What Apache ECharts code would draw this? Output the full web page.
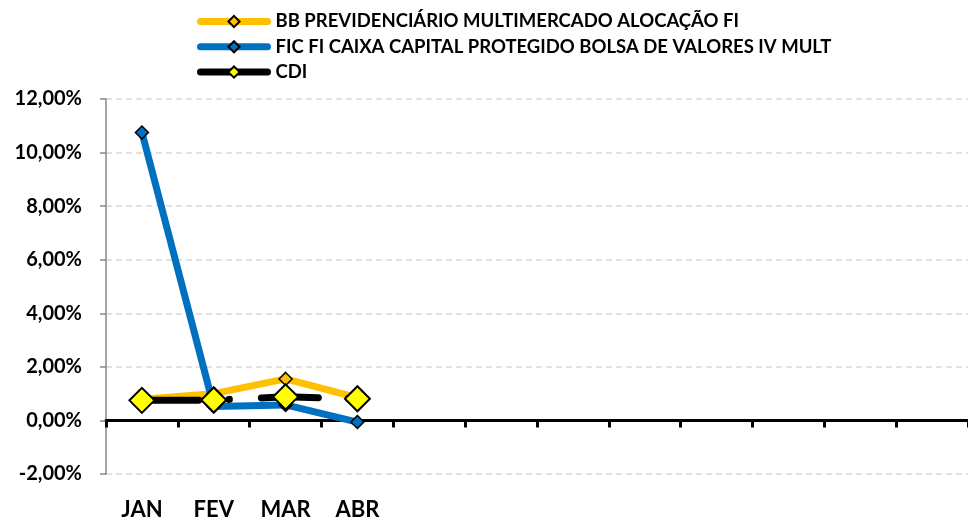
<!DOCTYPE html>
<html>
<head>
<meta charset="utf-8">
<script src="https://cdn.jsdelivr.net/npm/echarts@6/dist/echarts.min.js"></script>
<style>
  html, body { margin: 0; padding: 0; background: #fff; }
  #chart { width: 968px; height: 521px; }
</style>
</head>
<body>
<div id="chart"></div>
<script>
const months = ['JAN', 'FEV', 'MAR', 'ABR', '', '', '', '', '', '', '', '']

const seriesNames = [
  'BB PREVIDENCIÁRIO MULTIMERCADO ALOCAÇÃO FI',
  'FIC FI CAIXA CAPITAL PROTEGIDO BOLSA DE VALORES IV MULT',
  'CDI'
]

// monthly returns in %
const bbValues = [0.79, 1.0, 1.55, 0.85]
const caixaValues = [10.75, 0.52, 0.58, -0.06]
const cdiValues = [0.75, 0.76, 0.88, 0.81]

const font = 'Lato'

function pctLabel(v) {
  return v.toFixed(2).replace('.', ',') + '%'
}

const chart = echarts.init(document.getElementById('chart'))

const option = {
  animation: false,
  textStyle: { fontFamily: font },
  legend: {
    orient: 'vertical',
    left: 192,
    top: 7,
    itemWidth: 67,
    itemHeight: 14,
    itemGap: 6.3,
    data: seriesNames,
    textStyle: {
      fontFamily: font,
      fontWeight: 'bold',
      fontSize: 18.5,
      color: '#000',
      padding: [0, 0, 0, 3]
    },
    lineStyle: { width: 7, type: 'solid', cap: 'round' }
  },
  grid: {
    left: 106,
    top: 99,
    right: -2,
    bottom: 46
  },
  xAxis: [
    {
      type: 'category',
      data: months,
      boundaryGap: true,
      axisLine: { onZero: true, lineStyle: { color: '#000', width: 3 } },
      axisTick: { show: true, inside: false, length: 7, lineStyle: { color: '#000', width: 3 } },
      axisLabel: { show: false },
      splitLine: { show: false }
    },
    {
      type: 'category',
      data: months,
      position: 'bottom',
      boundaryGap: true,
      axisLine: { show: false, onZero: false },
      axisTick: { show: false },
      axisLabel: { show: true, interval: 0, margin: 25, fontFamily: font, fontWeight: 'bold', fontSize: 22, color: '#000' },
      splitLine: { show: false }
    }
  ],
  yAxis: {
    type: 'value',
    min: -2,
    max: 12,
    interval: 2,
    axisLine: { show: true, lineStyle: { color: '#868686', width: 1.5 } },
    axisTick: { show: true, length: 6, lineStyle: { color: '#868686', width: 1.5 } },
    axisLabel: {
      margin: 24,
      fontFamily: font,
      fontWeight: 'bold',
      fontSize: 20,
      color: '#000',
      formatter: pctLabel
    },
    splitLine: { show: true, lineStyle: { color: '#D9D9D9', width: 1.5, type: [6, 4] } }
  },
  series: [
    {
      name: seriesNames[0],
      type: 'line',
      data: bbValues,
      symbol: 'diamond',
      symbolSize: 13,
      lineStyle: { color: '#FFC000', width: 7 },
      itemStyle: { color: '#FFC000', borderColor: '#000', borderWidth: 1.5 }
    },
    {
      name: seriesNames[1],
      type: 'line',
      data: caixaValues,
      symbol: 'diamond',
      symbolSize: 13,
      lineStyle: { color: '#0070C0', width: 7 },
      itemStyle: { color: '#0070C0', borderColor: '#000', borderWidth: 1.5 }
    },
    {
      name: seriesNames[2],
      type: 'line',
      data: cdiValues,
      symbol: 'diamond',
      symbolSize: 25,
      lineStyle: { color: '#000', width: 7, type: [57, 30, 0.5, 32], cap: 'round' },
      itemStyle: { color: '#FFFF00', borderColor: '#000', borderWidth: 2 }
    }
  ]
}

chart.setOption(option)
</script>
</body>
</html>
